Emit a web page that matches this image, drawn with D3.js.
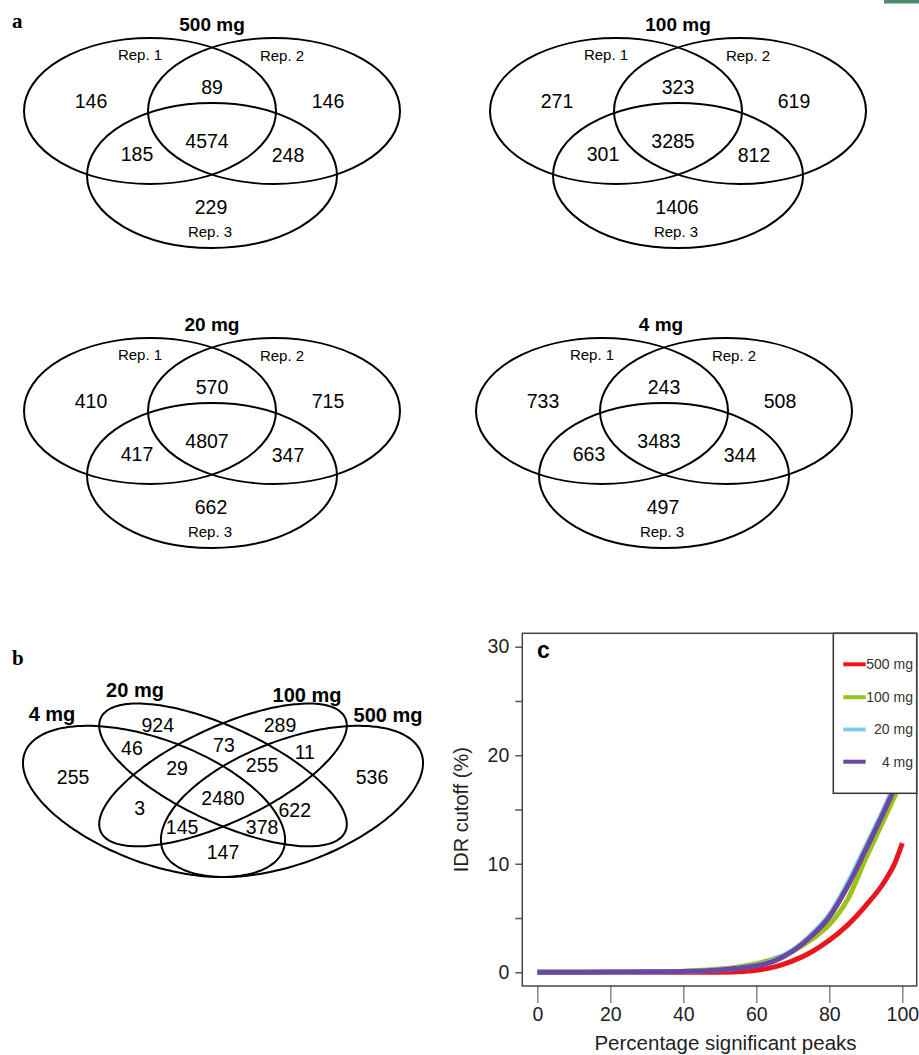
<!DOCTYPE html>
<html>
<head>
<meta charset="utf-8">
<title>Replicate overlap and IDR cutoff</title>
<script src="https://cdn.jsdelivr.net/npm/d3@7"></script>
<style>
  body { margin: 0; background: #fff; }
  svg { display: block; font-family: "Liberation Sans", Arial, sans-serif; }
</style>
</head>
<body>
<script>
// ---- data: panel a (three replicates per input amount) ----
var doses = ["500 mg", "100 mg", "20 mg", "4 mg"];
var reps = ["Rep. 1", "Rep. 2", "Rep. 3"];
var onlyRep1 = [146, 271, 410, 733];
var onlyRep2 = [146, 619, 715, 508];
var onlyRep3 = [229, 1406, 662, 497];
var rep1and2 = [89, 323, 570, 243];
var rep1and3 = [185, 301, 417, 663];
var rep2and3 = [248, 812, 347, 344];
var allReps = [4574, 3285, 4807, 3483];

// ---- data: panel b (four input amounts) ----
var quadSets = ["4 mg", "20 mg", "100 mg", "500 mg"];
// 4 only, 20 only, 100 only, 500 only, 4&20, 20&100, 100&500, 4&20&100,
// 20&100&500, all four, 4&100, 20&500, 4&100&500, 4&20&500, 4&500
var quadCounts = [255, 924, 289, 536, 46, 73, 11, 29, 255, 2480, 3, 622, 145, 378, 147];

// ---- data: panel c (IDR cutoff curves) ----
var pctPeaks = [0, 10, 20, 30, 40, 45, 50, 55, 60, 65, 70, 75, 80, 85, 90, 95, 98, 100];
var idr500 = [0, 0, 0, 0, 0, 0, 0.01, 0.05, 0.18, 0.5, 1.05, 1.85, 2.95, 4.35, 6.15, 8.3, 10.1, 11.9];
var idr100 = [0, 0, 0.02, 0.05, 0.1, 0.18, 0.3, 0.5, 0.8, 1.25, 1.95, 3.0, 4.4, 6.7, 10.5, 14.1, 16.3, 17.8];
var idr20 = [0, 0, 0.02, 0.05, 0.08, 0.14, 0.24, 0.4, 0.65, 1.15, 2.05, 3.45, 5.3, 8.2, 11.6, 15.1, 17.4, 18.9];
var idr4 = [0, 0, 0.02, 0.05, 0.08, 0.13, 0.22, 0.37, 0.6, 1.05, 1.95, 3.3, 5.1, 7.9, 11.3, 14.8, 17.0, 18.5];
var curveNames = ["500 mg", "100 mg", "20 mg", "4 mg"];
var curveColors = ["#ea161d", "#9ac31c", "#80cfe6", "#6b47a4"];

var w = 919, h = 1055;
var svg = d3.select("body").append("svg").attr("width", w).attr("height", h);

// small leftover image fragment in the top right corner
svg.append("rect").attr("x", 884).attr("y", 0).attr("width", 35).attr("height", 3.5)
  .attr("fill", "#4d8b6c");

// ================= panel a =================
svg.append("text").attr("x", 12).attr("y", 28).text("a")
  .attr("font-family", "Liberation Serif, Times New Roman, serif")
  .attr("font-weight", "bold").attr("font-size", "21px");

var tri = {
  ellipses: [{x: -62, y: 111, rx: 126, ry: 73}, {x: 62, y: 111, rx: 126, ry: 73}, {x: 0, y: 175.5, rx: 125, ry: 72.5}],
  reps: [[-72, 55], [70, 56], [-2, 232]],
  counts: [[-121, 101], [116, 101], [-1, 207], [0, 87], [-75, 154], [76, 155], [-5, 141]]
};
var venns = [[212, 0], [678, 0], [212, 300], [664, 300]];

doses.forEach(function(dose, i) {
  var g = svg.append("g").attr("transform", "translate(" + venns[i][0] + "," + venns[i][1] + ")");
  g.selectAll("ellipse").data(tri.ellipses).enter().append("ellipse")
    .attr("cx", function(d) { return d.x; })
    .attr("cy", function(d) { return d.y; })
    .attr("rx", function(d) { return d.rx; })
    .attr("ry", function(d) { return d.ry; })
    .attr("fill", "none").attr("stroke", "#000").attr("stroke-width", 2);
  g.append("text").attr("x", i === 3 ? -3 : 0).attr("y", 31).attr("text-anchor", "middle")
    .attr("font-weight", "bold").attr("font-size", "19px").text(dose);
  g.selectAll("text.rep").data(reps).enter().append("text").attr("class", "rep")
    .attr("x", function(d, k) { return tri.reps[k][0]; })
    .attr("y", function(d, k) { return tri.reps[k][1]; })
    .attr("dy", "0.35em").attr("text-anchor", "middle").attr("font-size", "15px")
    .text(function(d) { return d; });
  var vals = [onlyRep1[i], onlyRep2[i], onlyRep3[i], rep1and2[i], rep1and3[i], rep2and3[i], allReps[i]];
  g.selectAll("text.cnt").data(vals).enter().append("text").attr("class", "cnt")
    .attr("x", function(d, k) { return tri.counts[k][0]; })
    .attr("y", function(d, k) { return tri.counts[k][1]; })
    .attr("dy", "0.35em").attr("text-anchor", "middle").attr("font-size", "19.5px")
    .text(function(d) { return d; });
});

// ================= panel b =================
svg.append("text").attr("x", 12).attr("y", 665).text("b")
  .attr("font-family", "Liberation Serif, Times New Roman, serif")
  .attr("font-weight", "bold").attr("font-size", "21px");

var qx = d3.scaleLinear().domain([0.065, 0.935]).range([23, 423]);
var qy = d3.scaleLinear().domain([0.185, 0.826]).range([877, 707]);
var quadEllipses = [
  {x: 0.35, y: 0.47, a: 0.35, b: 0.20, rot: 135},
  {x: 0.50, y: 0.57, a: 0.35, b: 0.15, rot: 135},
  {x: 0.50, y: 0.57, a: 0.35, b: 0.15, rot: 45},
  {x: 0.65, y: 0.47, a: 0.35, b: 0.20, rot: 45}
];
function ellipsePoints(e) {
  var pts = [], c = Math.cos(e.rot * Math.PI / 180), s = Math.sin(e.rot * Math.PI / 180);
  for (var k = 0; k < 160; k++) {
    var t = 2 * Math.PI * k / 160;
    var ex = e.a * Math.cos(t), ey = e.b * Math.sin(t);
    pts.push([e.x + ex * c - ey * s, e.y + ex * s + ey * c]);
  }
  return pts;
}
var qline = d3.line().x(function(d) { return qx(d[0]); }).y(function(d) { return qy(d[1]); })
  .curve(d3.curveCardinalClosed);
svg.append("g").selectAll("path").data(quadEllipses).enter().append("path")
  .attr("d", function(d) { return qline(ellipsePoints(d)); })
  .attr("fill", "none").attr("stroke", "#000").attr("stroke-width", 2);

var quadLabelPos = [[52, 721], [135, 697], [307, 702], [388, 722]];
svg.append("g").selectAll("text").data(quadSets).enter().append("text")
  .attr("x", function(d, k) { return quadLabelPos[k][0]; })
  .attr("y", function(d, k) { return quadLabelPos[k][1]; })
  .attr("text-anchor", "middle").attr("font-weight", "bold").attr("font-size", "20px")
  .text(function(d) { return d; });

var quadPos = [[0.174, 0.562], [0.358, 0.758], [0.624, 0.758], [0.824, 0.562], [0.302, 0.671],
  [0.502, 0.683], [0.678, 0.656], [0.400, 0.596], [0.585, 0.607], [0.500, 0.483], [0.319, 0.445],
  [0.656, 0.437], [0.411, 0.373], [0.585, 0.373], [0.500, 0.279]];
svg.append("g").selectAll("text").data(quadCounts).enter().append("text")
  .attr("x", function(d, k) { return qx(quadPos[k][0]); })
  .attr("y", function(d, k) { return qy(quadPos[k][1]); })
  .attr("dy", "0.35em").attr("text-anchor", "middle").attr("font-size", "19.5px")
  .text(function(d) { return d; });

// ================= panel c =================
var plotL = 522.3, plotR = 916.7, plotT = 633.3, plotB = 986;
var x = d3.scaleLinear().domain([0, 100]).range([537.3, 902.3]);
var y = d3.scaleLinear().domain([0, 30]).range([972.3, 646.7]);

var series = [idr500, idr100, idr20, idr4];
var line = d3.line()
  .x(function(d, k) { return x(pctPeaks[k]); })
  .y(function(d) { return y(d); })
  .curve(d3.curveMonotoneX);
svg.append("g").selectAll("path").data(series).enter().append("path")
  .attr("d", line)
  .attr("fill", "none")
  .attr("stroke", function(d, k) { return curveColors[k]; })
  .attr("stroke-width", 5);

var yAxis = svg.append("g").attr("transform", "translate(" + plotL + ",0)")
  .call(d3.axisLeft(y).tickValues([0, 5, 10, 15, 20, 25, 30]).tickSize(7).tickPadding(6)
    .tickFormat(function(d) { return d % 10 === 0 ? d : ""; }));
yAxis.select(".domain").remove();
yAxis.selectAll("line").attr("stroke", "#555").attr("stroke-width", 1.5);
yAxis.selectAll("text").attr("font-size", "19.5px").attr("font-family", "Liberation Sans, Arial, sans-serif").attr("fill", "#222");

var xAxis = svg.append("g").attr("transform", "translate(0," + plotB + ")")
  .call(d3.axisBottom(x).tickValues([0, 20, 40, 60, 80, 100]).tickSize(17).tickPadding(4));
xAxis.select(".domain").remove();
xAxis.selectAll("line").attr("stroke", "#888").attr("stroke-width", 1.5);
xAxis.selectAll("text").attr("font-size", "19.5px").attr("font-family", "Liberation Sans, Arial, sans-serif").attr("fill", "#222");

svg.append("text").attr("x", (plotL + plotR) / 2 + 6).attr("y", 1050).attr("text-anchor", "middle")
  .attr("font-size", "20.5px").attr("fill", "#222").text("Percentage significant peaks");
svg.append("text").attr("transform", "translate(468," + (plotT + plotB) / 2 + ") rotate(-90)")
  .attr("text-anchor", "middle").attr("font-size", "20px").attr("fill", "#222").text("IDR cutoff (%)");

// legend
var lg = svg.append("g");
lg.append("rect").attr("x", 833.3).attr("y", plotT).attr("width", plotR - 833.3).attr("height", 160)
  .attr("fill", "#fff").attr("stroke", "#333").attr("stroke-width", 1.5);
var legY = [664.3, 697.2, 729.5, 761.7];
lg.selectAll("line").data(curveNames).enter().append("line")
  .attr("x1", 843.3).attr("x2", 865.7)
  .attr("y1", function(d, k) { return legY[k]; }).attr("y2", function(d, k) { return legY[k]; })
  .attr("stroke", function(d, k) { return curveColors[k]; }).attr("stroke-width", 4);
lg.selectAll("text").data(curveNames).enter().append("text")
  .attr("x", 913).attr("y", function(d, k) { return legY[k]; })
  .attr("dy", "0.35em").attr("text-anchor", "end").attr("font-size", "14px").attr("fill", "#333")
  .text(function(d) { return d; });

// frame
svg.append("rect").attr("x", plotL).attr("y", plotT).attr("width", plotR - plotL).attr("height", plotB - plotT)
  .attr("fill", "none").attr("stroke", "#444").attr("stroke-width", 1.5);

svg.append("text").attr("x", 537).attr("y", 658).attr("font-weight", "bold").attr("font-size", "23px").text("c");
</script>
</body>
</html>
